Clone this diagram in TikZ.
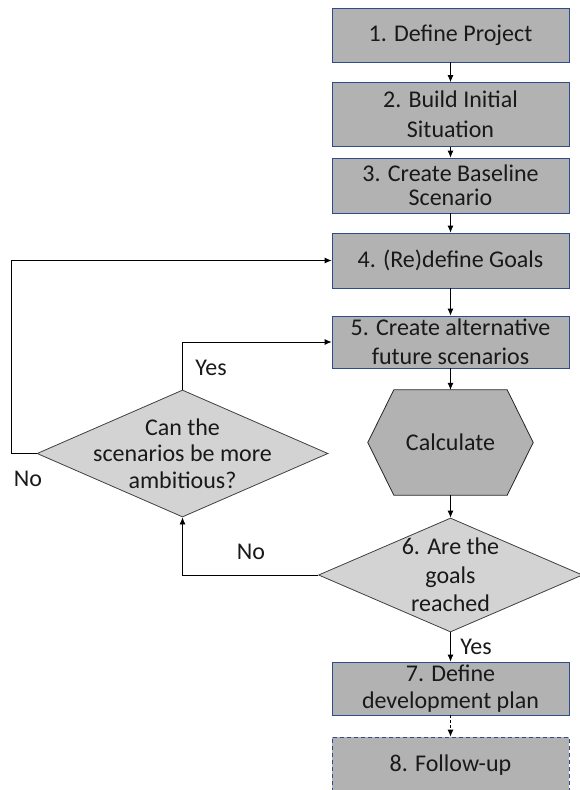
\documentclass[tikz,border=0pt]{standalone}
\usepackage{fontspec}
\setmainfont{Carlito}
\usetikzlibrary{arrows.meta,calc,shapes.geometric}
\definecolor{boxgray}{HTML}{B2B2B2}
\definecolor{diagray}{HTML}{D3D3D3}
\definecolor{boxblue}{HTML}{2F4B8C}
\tikzset{
	stepbox/.style={draw=boxblue, fill=boxgray, line width=0.8pt, minimum width=237pt, minimum height=54pt, inner sep=0pt, align=center, text=black!90, font=\fontsize{24}{27}\selectfont},
	decision/.style={shape=diamond, draw=black!75, fill=diagray, line width=0.8pt, inner sep=0pt},
	answer/.style={text=black!90, font=\fontsize{24}{27}\selectfont, align=center},
	flow/.style={-{Latex[length=7pt,width=6pt]}, line width=0.8pt}
}

\begin{document}
\begin{tikzpicture}[x=1pt, y=-1pt]
			%%%%% START %%%%%
			\useasboundingbox (0, 0) rectangle (579, 790);
			
			\node[stepbox] (project) at (450.5, 35) {1. Define Project};
			\node[stepbox, minimum height=64pt, font=\fontsize{24}{30}\selectfont] (initial) at (450.5, 114.5) {2. Build Initial\\Situation};
			\node[stepbox, minimum height=55pt, font=\fontsize{24}{24}\selectfont] (baseline) at (450.5, 185.5) {3. Create Baseline\\Scenario};
			\node[stepbox, minimum height=55pt] (goals) at (450.5, 260.5) {4. (Re)define Goals};
			\node[stepbox, minimum height=52pt, font=\fontsize{24}{29}\selectfont] (future) at (450.5, 342) {5. Create alternative\\future scenarios};
			
			\node[minimum width=165pt, minimum height=105pt, inner sep=0pt] (calc) at (450.5, 442.5) {};
			\draw[draw=black!85, fill=boxgray, line width=0.8pt] (calc.west) -- ($(calc.north west)+(26, 0)$) -- ($(calc.north east)+(-26, 0)$) -- (calc.east) -- ($(calc.south east)+(-26, 0)$) -- ($(calc.south west)+(26, 0)$) -- cycle;
			\node[answer] at (calc) {Calculate};
			
			\node[decision, minimum width=264pt, minimum height=114pt] (reached) at (450.5, 575) {};
			\node[answer, font=\fontsize{24}{28.5}\selectfont] at (reached) {6. Are the\\goals\\reached};
			
			\node[decision, minimum width=291pt, minimum height=127pt] (ambitious) at (182.5, 453.5) {};
			\node[answer, font=\fontsize{24}{26.5}\selectfont] at (ambitious) {Can the\\scenarios be more\\ambitious?};
			
			\node[stepbox, minimum height=53pt] (plan) at (450.5, 688.5) {7. Define\\development plan};
			\node[stepbox, minimum height=56pt, dash pattern=on 4pt off 3pt] (followup) at (450.5, 765) {8. Follow-up};
			
			% main line
			\draw[flow] (project) -- (initial);
			\draw[flow] (initial) -- (baseline);
			\draw[flow] (baseline) -- (goals);
			\draw[flow] (goals) -- (future);
			\draw[flow] (future) -- (calc.north);
			\draw[flow] (calc.south) -- (reached.north);
			\draw[flow] (reached.south) -- (plan.north);
			\draw[flow, dash pattern=on 3pt off 2pt] (plan) -- (followup);
			
			% loops back
			\draw[flow] (reached.west) -| (ambitious.south);
			\draw[flow] (ambitious.north) |- (future.west);
			\draw[flow] (ambitious.west) -- ++(-25, 0) |- (goals.west);
			
			\node[answer] (yesplan) at (476, 647) {Yes};
			\node[answer] (nogoals) at (251, 552) {No};
			\node[answer] (yesfuture) at (211, 368) {Yes};
			\node[answer] (noloop) at (28, 479) {No};
			%%%%% END %%%%%
\end{tikzpicture}
\end{document}
